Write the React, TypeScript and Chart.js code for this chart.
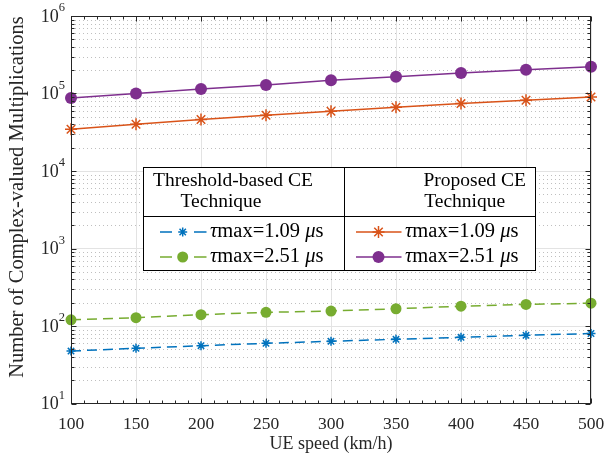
import React, { useEffect, useRef } from 'react';
import { Chart, registerables } from 'chart.js';

Chart.register(...registerables);

const speeds = [100, 150, 200, 250, 300, 350, 400, 450, 500];
const thresholdTau109 = [47.5, 51.6, 55.7, 59.8, 63.5, 67.4, 71.5, 75.9, 80];
const thresholdTau251 = [120, 128, 140, 150, 156, 167, 180, 190, 197];
const proposedTau109 = [34500, 40200, 46100, 52500, 59100, 66600, 74100, 82000, 90000];
const proposedTau251 = [87500, 99700, 114600, 129000, 148000, 165000, 184000, 203000, 222000];

const xTickValues = [100, 150, 200, 250, 300, 350, 400, 450, 500];
const yDecades = [10, 100, 1000, 10000, 100000, 1000000];
const yExponents = ['1', '2', '3', '4', '5', '6'];

const xTitle = 'UE speed (km/h)';
const yTitle = 'Number of Complex-valued Multiplications';
const legendHeaderLeft = ['Threshold-based CE', 'Technique'];
const legendHeaderRight = ['Proposed CE', 'Technique'];
const legendValues = ['1.09', '2.51'];

const BLUE = '#0072BD';
const GREEN = '#77AC30';
const ORANGE = '#D95319';
const PURPLE = '#7E2F8E';
const FONT = "'Liberation Serif', 'Times New Roman', serif";
const AXIS = '#262626';

function drawStar(ctx: CanvasRenderingContext2D, x: number, y: number, r: number, color: string) {
  ctx.save();
  ctx.strokeStyle = color;
  ctx.lineWidth = 1.5;
  ctx.setLineDash([]);
  ctx.beginPath();
  ctx.moveTo(x - r, y); ctx.lineTo(x + r, y);
  ctx.moveTo(x, y - r); ctx.lineTo(x, y + r);
  const d = r * Math.SQRT1_2;
  ctx.moveTo(x - d, y - d); ctx.lineTo(x + d, y + d);
  ctx.moveTo(x - d, y + d); ctx.lineTo(x + d, y - d);
  ctx.stroke();
  ctx.restore();
}

function drawDot(ctx: CanvasRenderingContext2D, x: number, y: number, r: number, color: string) {
  ctx.save();
  ctx.fillStyle = color;
  ctx.beginPath();
  ctx.arc(x, y, r, 0, Math.PI * 2);
  ctx.fill();
  ctx.restore();
}

function drawTauText(ctx: CanvasRenderingContext2D, x: number, y: number, value: string) {
  const size = 20.5;
  const parts: [string, boolean][] = [['τ', true], ['max=' + value + ' ', false], ['μ', true], ['s', false]];
  let cx = x;
  ctx.textAlign = 'left';
  ctx.textBaseline = 'middle';
  ctx.fillStyle = '#000';
  for (const [t, it] of parts) {
    ctx.font = `${it ? 'italic ' : ''}${size}px ${FONT}`;
    ctx.fillText(t, cx, y);
    cx += ctx.measureText(t).width;
  }
}

const decorPlugin = {
  id: 'decor',
  beforeDatasetsDraw(chart: any) {
    const { ctx, chartArea: a, scales } = chart;
    const y = scales.y;
    ctx.save();
    ctx.strokeStyle = 'rgba(0,0,0,0.25)';
    ctx.lineWidth = 1;
    ctx.setLineDash([1, 3]);
    for (let n = 0; n < yDecades.length - 1; n++) {
      for (let k = 2; k <= 9; k++) {
        const py = Math.round(y.getPixelForValue(k * yDecades[n])) + 0.5;
        ctx.beginPath();
        ctx.moveTo(a.left, py);
        ctx.lineTo(a.right, py);
        ctx.stroke();
      }
    }
    ctx.restore();
  },
  afterDraw(chart: any) {
    const { ctx, chartArea: a, scales } = chart;
    const x = scales.x;
    const y = scales.y;
    ctx.save();
    ctx.strokeStyle = AXIS;
    ctx.lineWidth = 1;
    ctx.setLineDash([]);
    const L = Math.round(a.left) + 0.5, R = Math.round(a.right) - 0.5;
    const T = Math.round(a.top) + 0.5, B = Math.round(a.bottom) - 0.5;
    ctx.strokeRect(L, T, R - L, B - T);
    ctx.beginPath();
    for (let v = xTickValues[0]; v <= xTickValues[xTickValues.length - 1]; v += 10) {
      const px = Math.round(x.getPixelForValue(v)) + 0.5;
      const len = v % 50 === 0 ? 5 : 3;
      ctx.moveTo(px, B); ctx.lineTo(px, B - len);
      ctx.moveTo(px, T); ctx.lineTo(px, T + len);
    }
    for (let n = 0; n < yDecades.length; n++) {
      const py = Math.round(y.getPixelForValue(yDecades[n])) + 0.5;
      ctx.moveTo(L, py); ctx.lineTo(L + 5, py);
      ctx.moveTo(R, py); ctx.lineTo(R - 5, py);
      if (n < yDecades.length - 1) {
        for (let k = 2; k <= 9; k++) {
          const pm = Math.round(y.getPixelForValue(k * yDecades[n])) + 0.5;
          ctx.moveTo(L, pm); ctx.lineTo(L + 3, pm);
          ctx.moveTo(R, pm); ctx.lineTo(R - 3, pm);
        }
      }
    }
    ctx.stroke();

    ctx.fillStyle = AXIS;
    for (let n = 0; n < yDecades.length; n++) {
      const py = y.getPixelForValue(yDecades[n]);
      ctx.font = `12.5px ${FONT}`;
      const we = ctx.measureText(yExponents[n]).width;
      const ex = a.left - 6 - we;
      ctx.textAlign = 'left';
      ctx.textBaseline = 'middle';
      ctx.fillText(yExponents[n], ex, py - 8);
      ctx.font = `18px ${FONT}`;
      ctx.textAlign = 'right';
      ctx.fillText('10', ex, py + 1);
    }

    ctx.font = `18px ${FONT}`;
    ctx.textAlign = 'center';
    ctx.textBaseline = 'middle';
    ctx.fillText(xTitle, (a.left + a.right) / 2, 444);
    ctx.save();
    ctx.font = `20.5px ${FONT}`;
    ctx.translate(18, 197);
    ctx.rotate(-Math.PI / 2);
    ctx.fillText(yTitle, 0, 0);
    ctx.restore();

    const bx = 143.5, by = 167.5, bw = 392, bh = 103;
    ctx.fillStyle = '#fff';
    ctx.fillRect(bx, by, bw, bh);
    ctx.strokeStyle = '#000';
    ctx.lineWidth = 1;
    ctx.strokeRect(bx, by, bw, bh);
    ctx.beginPath();
    ctx.moveTo(344.5, by); ctx.lineTo(344.5, by + bh);
    ctx.moveTo(bx, 216.5); ctx.lineTo(bx + bw, 216.5);
    ctx.stroke();

    ctx.fillStyle = '#000';
    ctx.font = `19.5px ${FONT}`;
    ctx.textAlign = 'center';
    ctx.textBaseline = 'middle';
    ctx.fillText(legendHeaderLeft[0], 233, 181);
    ctx.fillText(legendHeaderLeft[1], 221, 202);
    ctx.fillText(legendHeaderRight[0], 474.7, 181);
    ctx.fillText(legendHeaderRight[1], 464.7, 202);

    const rows = [232, 257];
    const leftColors = [BLUE, GREEN];
    const rightColors = [ORANGE, PURPLE];
    for (let i = 0; i < 2; i++) {
      const ry = rows[i];
      ctx.strokeStyle = leftColors[i];
      ctx.lineWidth = 1.5;
      ctx.beginPath();
      ctx.moveTo(160, ry); ctx.lineTo(172, ry);
      ctx.moveTo(194, ry); ctx.lineTo(206.5, ry);
      ctx.stroke();
      if (i === 0) drawStar(ctx, 182.7, ry, 4.5, BLUE); else drawDot(ctx, 182.7, ry, 5.5, GREEN);
      drawTauText(ctx, 210, ry, legendValues[i]);

      ctx.strokeStyle = rightColors[i];
      ctx.lineWidth = 1.5;
      ctx.beginPath();
      ctx.moveTo(356, ry); ctx.lineTo(401.5, ry);
      ctx.stroke();
      if (i === 0) drawStar(ctx, 378.5, ry, 6, ORANGE); else drawDot(ctx, 378.5, ry, 6, PURPLE);
      drawTauText(ctx, 405, ry, legendValues[i]);
    }
    ctx.restore();
  },
};

function toPoints(values: number[]) {
  return speeds.map((s, i) => ({ x: s, y: values[i] }));
}

export default function App() {
  const ref = useRef<HTMLCanvasElement | null>(null);
  useEffect(() => {
    if (!ref.current) return;
    const chart = new Chart(ref.current, {
      type: 'line',
      data: {
        datasets: [
          {
            label: 'Threshold-based τmax=1.09 μs',
            data: toPoints(thresholdTau109),
            borderColor: BLUE,
            backgroundColor: BLUE,
            borderWidth: 1.5,
            borderDash: [10, 6],
            pointStyle: 'star',
            pointRadius: 4.5,
            pointBorderWidth: 1.5,
            pointBorderColor: BLUE,
            clip: false,
          },
          {
            label: 'Threshold-based τmax=2.51 μs',
            data: toPoints(thresholdTau251),
            borderColor: GREEN,
            backgroundColor: GREEN,
            borderWidth: 1.5,
            borderDash: [10, 6],
            pointStyle: 'circle',
            pointRadius: 5.5,
            pointBorderWidth: 0,
            clip: false,
          },
          {
            label: 'Proposed τmax=1.09 μs',
            data: toPoints(proposedTau109),
            borderColor: ORANGE,
            backgroundColor: ORANGE,
            borderWidth: 1.5,
            pointStyle: 'star',
            pointRadius: 6,
            pointBorderWidth: 1.5,
            pointBorderColor: ORANGE,
            clip: false,
          },
          {
            label: 'Proposed τmax=2.51 μs',
            data: toPoints(proposedTau251),
            borderColor: PURPLE,
            backgroundColor: PURPLE,
            borderWidth: 1.5,
            pointStyle: 'circle',
            pointRadius: 6,
            pointBorderWidth: 0,
            clip: false,
          },
        ],
      },
      options: {
        responsive: false,
        animation: false,
        devicePixelRatio: 1,
        layout: { padding: { left: 0, top: 16, right: 25, bottom: 0 } },
        plugins: { legend: { display: false }, tooltip: { enabled: false } },
        elements: { line: { tension: 0 } },
        scales: {
          x: {
            type: 'linear',
            min: 100,
            max: 500,
            afterBuildTicks: (s: any) => { s.ticks = xTickValues.map((v) => ({ value: v })); },
            afterFit: (s: any) => { s.height = 53.5; },
            ticks: {
              font: { family: FONT, size: 17.5 },
              color: AXIS,
              padding: 10,
              autoSkip: false,
              maxRotation: 0,
              callback: (v: any) => String(v),
            },
            grid: { color: '#e3e3e3', drawTicks: false, lineWidth: 1 },
            border: { display: false },
          },
          y: {
            type: 'logarithmic',
            min: 10,
            max: 1000000,
            afterBuildTicks: (s: any) => { s.ticks = yDecades.map((v) => ({ value: v, major: true })); },
            afterFit: (s: any) => { s.width = 71; },
            ticks: { display: false },
            grid: { color: '#e3e3e3', drawTicks: false, lineWidth: 1 },
            border: { display: false },
          },
        },
      },
      plugins: [decorPlugin],
    } as any);
    return () => chart.destroy();
  }, []);
  return (
    <div style={{ position: 'fixed', left: 0, top: 0, width: 616, height: 457, background: '#fff' }}>
      <canvas ref={ref} width={616} height={457} style={{ display: 'block' }} />
    </div>
  );
}
